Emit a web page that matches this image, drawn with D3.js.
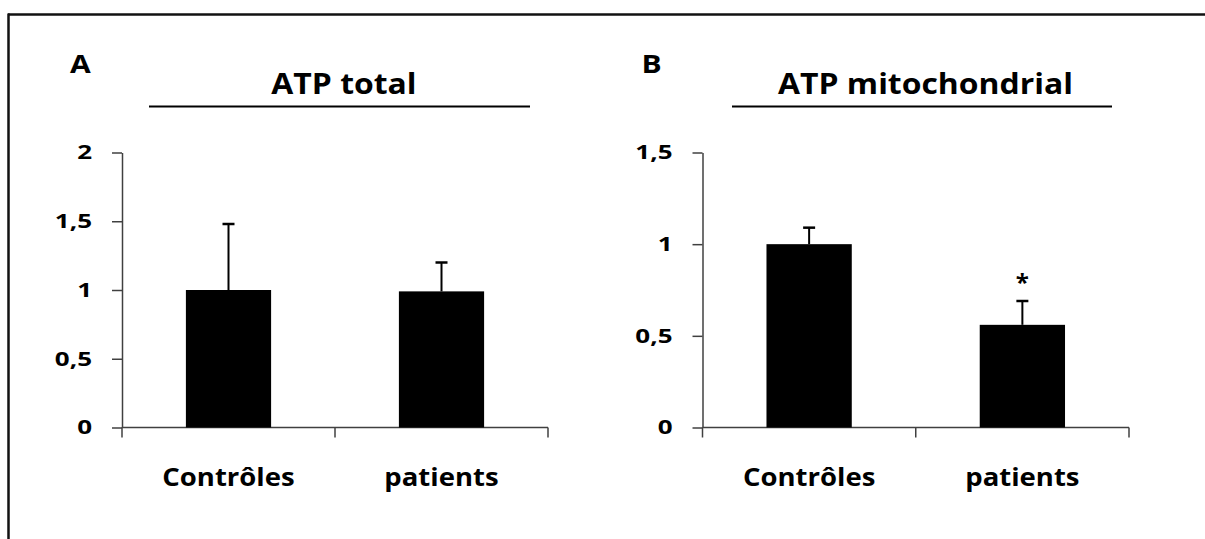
<!DOCTYPE html>
<html>
<head>
<meta charset="utf-8">
<script src="https://cdn.jsdelivr.net/npm/d3@7"></script>
<style>
  html, body { margin: 0; padding: 0; background: #fff; }
  svg { display: block; }
  text { font-family: "Open Sans", "Noto Sans", sans-serif; font-weight: 700; fill: #000; }
</style>
</head>
<body>
<svg id="chart" width="1205" height="539"></svg>
<script>
// ---- data ----
const categories = ["Contrôles", "patients"];
const panelLetters = ["A", "B"];
const panelTitles = ["ATP total", "ATP mitochondrial"];
const atpTotalValues = [1.00, 0.99];
const atpTotalErrors = [0.48, 0.21];
const atpMitoValues = [1.00, 0.56];
const atpMitoErrors = [0.09, 0.13];
const atpTotalTicks = [0, 0.5, 1, 1.5, 2];
const atpMitoTicks = [0, 0.5, 1, 1.5];
const atpTotalMarks = ["", ""];
const atpMitoMarks = ["", "*"];

const fmt = d3.formatLocale({decimal: ",", thousands: " ", grouping: [3], currency: ["", "€"]}).format("~g");

const svg = d3.select("#chart");

// frame (top and left edges only)
svg.append("line").attr("x1", 8).attr("x2", 1205).attr("y1", 14.5).attr("y2", 14.5)
  .attr("stroke", "#111").attr("stroke-width", 2.5);
svg.append("line").attr("x1", 8.5).attr("x2", 8.5).attr("y1", 13.5).attr("y2", 539)
  .attr("stroke", "#111").attr("stroke-width", 2.5);

function stretch(sel, sx) {
  sel.each(function() {
    const w = this.getComputedTextLength();
    d3.select(this).attr("textLength", w * sx).attr("lengthAdjust", "spacingAndGlyphs");
  });
}

const panels = [
  {letter: panelLetters[0], title: panelTitles[0], values: atpTotalValues, errors: atpTotalErrors,
   ticks: atpTotalTicks, marks: atpTotalMarks,
   x0: 122, x1: 548, letterX: 70, titleX: 344, lineX0: 149, lineX1: 530},
  {letter: panelLetters[1], title: panelTitles[1], values: atpMitoValues, errors: atpMitoErrors,
   ticks: atpMitoTicks, marks: atpMitoMarks,
   x0: 702.5, x1: 1129, letterX: 641.5, titleX: 925.5, lineX0: 732, lineX1: 1112}
];

const yTop = 152.5, yBottom = 427.5;
const axisColor = "#404040";

panels.forEach(p => {
  const g = svg.append("g");
  const x = d3.scaleBand().domain(categories).range([p.x0, p.x1]).padding(0);
  const y = d3.scaleLinear().domain([0, d3.max(p.ticks)]).range([yBottom, yTop]);

  // panel letter
  g.append("text").attr("x", p.letterX).attr("y", 73).attr("font-size", 25).text(p.letter)
    .call(stretch, 1.2);

  // title and underline
  g.append("text").attr("x", p.titleX).attr("y", 93.5).attr("text-anchor", "middle")
    .attr("font-size", 29).text(p.title).call(stretch, 1.1);
  g.append("line").attr("x1", p.lineX0).attr("x2", p.lineX1).attr("y1", 106.5).attr("y2", 106.5)
    .attr("stroke", "#000").attr("stroke-width", 2);

  // y axis
  const yAxis = d3.axisLeft(y).tickValues(p.ticks).tickSize(10).tickSizeOuter(0)
    .tickPadding(20).tickFormat(fmt);
  const ya = g.append("g").attr("transform", `translate(${p.x0},0)`).call(yAxis);
  ya.select(".domain").attr("stroke", axisColor).attr("stroke-width", 1.5);
  ya.selectAll(".tick line").attr("stroke", axisColor).attr("stroke-width", 1.5);
  ya.selectAll(".tick text").attr("font-size", 20).attr("fill", "#000")
    .attr("font-family", "'Open Sans', sans-serif").attr("font-weight", 700)
    .call(stretch, 1.3);

  // x axis: baseline with ticks at band boundaries
  const bounds = categories.map(c => x(c)).concat([p.x1]);
  g.append("line").attr("x1", p.x0).attr("x2", p.x1).attr("y1", y(0)).attr("y2", y(0))
    .attr("stroke", axisColor).attr("stroke-width", 1.5);
  g.selectAll(".xtick").data(bounds).join("line").attr("class", "xtick")
    .attr("x1", d => d).attr("x2", d => d).attr("y1", y(0)).attr("y2", y(0) + 10)
    .attr("stroke", axisColor).attr("stroke-width", 1.5);

  // category labels
  g.selectAll(".xlab").data(categories).join("text").attr("class", "xlab")
    .attr("x", d => x(d) + x.bandwidth() / 2).attr("y", 486).attr("text-anchor", "middle")
    .attr("font-size", 25).text(d => d).call(stretch, 1.1);

  // bars
  const bw = x.bandwidth() * 0.4;
  g.selectAll(".bar").data(categories).join("rect").attr("class", "bar")
    .attr("x", d => x(d) + (x.bandwidth() - bw) / 2)
    .attr("y", (d, i) => y(p.values[i]))
    .attr("width", bw)
    .attr("height", (d, i) => y(0) - y(p.values[i]))
    .attr("fill", "#000");

  // error bars (upper only)
  const cx = d => x(d) + x.bandwidth() / 2;
  g.selectAll(".err").data(categories).join("line").attr("class", "err")
    .attr("x1", cx).attr("x2", cx)
    .attr("y1", (d, i) => y(p.values[i]))
    .attr("y2", (d, i) => y(p.values[i] + p.errors[i]))
    .attr("stroke", "#000").attr("stroke-width", 2);
  g.selectAll(".cap").data(categories).join("line").attr("class", "cap")
    .attr("x1", d => cx(d) - 6).attr("x2", d => cx(d) + 6)
    .attr("y1", (d, i) => y(p.values[i] + p.errors[i]))
    .attr("y2", (d, i) => y(p.values[i] + p.errors[i]))
    .attr("stroke", "#000").attr("stroke-width", 2.5);

  // significance marks
  g.selectAll(".mark").data(categories).join("text").attr("class", "mark")
    .attr("x", cx)
    .attr("y", (d, i) => y(p.values[i] + p.errors[i]) - 10)
    .attr("text-anchor", "middle").attr("font-size", 24)
    .text((d, i) => p.marks[i]);
});
</script>
</body>
</html>
